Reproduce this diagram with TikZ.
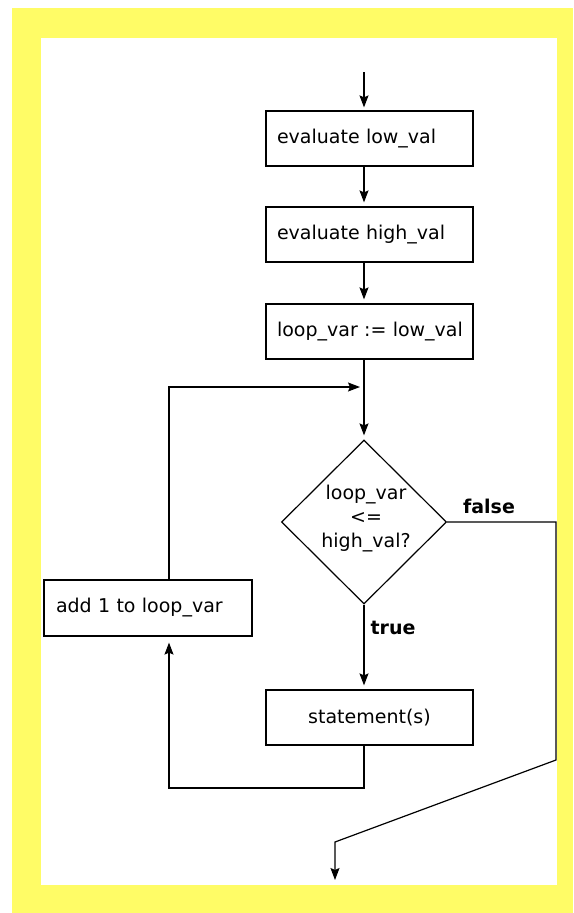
\documentclass[tikz,border=0pt]{standalone}
\usepackage{fontspec}
\setmainfont{DejaVu Sans}
\usetikzlibrary{shapes.geometric,arrows.meta}
\definecolor{bgyellow}{RGB}{255,252,102}
\begin{document}
\begin{tikzpicture}[x=1pt,y=-1pt,
  txt/.style={font=\fontsize{19}{24}\selectfont},
  bold/.style={font=\fontsize{19}{24}\selectfont\bfseries},
  procbox/.style={txt,draw,line width=1.2pt,minimum width=207pt,minimum height=55pt,
    text width=185pt,align=left,inner xsep=11pt,inner ysep=0pt},
  decision/.style={diamond,draw,line width=1.2pt,minimum width=165pt,minimum height=164pt,inner sep=0pt},
  flow/.style={line width=1.2pt},
  arr/.style={flow,-{Stealth[length=12pt,width=9pt,inset=2pt]}}
]
% background frame
\useasboundingbox (0,0) rectangle (573,913);
\fill[white] (0,0) rectangle (573,913);
\fill[bgyellow] (12,8) rectangle (573,913);
\fill[white] (41,38) rectangle (557,885);

% nodes
\node[procbox] (b1) at (369.5,138.5) {evaluate low\_val};
\node[procbox] (b2) at (369.5,234.5) {evaluate high\_val};
\node[procbox] (b3) at (369.5,331.5) {\mbox{loop\_var := low\_val}};
\node[decision] (d) at (364,522) {};
\node[txt,align=center] (dt) at (366,519) {loop\_var\\<=\\high\_val?};
\node[procbox,align=center] (st) at (369.5,717.5) {statement(s)};
\node[procbox,minimum width=208pt,text width=184pt,inner xsep=12pt,minimum height=56pt] (add) at (148,608) {add 1 to loop\_var};
\node[bold] (tl) at (393,628) {true};
\node[bold] (fl) at (489,506) {false};

% helper coordinates
\coordinate (start) at (364,72);
\coordinate (loopin) at (364,387);
\coordinate (lx) at (169,387);
\coordinate (bot) at (169,788);
\coordinate (f1) at (556,760);
\coordinate (f2) at (335,842);
\coordinate (fin) at (335,880);

% connectors
\draw[arr,shorten >=3pt] (start) -- (start |- b1.north);
\draw[arr,shorten >=4pt] (b1.south -| start) -- (b2.north -| start);
\draw[arr,shorten >=4pt] (b2.south -| start) -- (b3.north -| start);
\draw[arr,shorten >=4pt] (b3.south -| start) -- (d.north);
\draw[arr,shorten >=4pt] (add.north -| lx) -- (lx) -- (loopin);
\draw[arr,shorten >=4pt] (d.south) -- (st.north -| d.south);
\draw[arr,shorten >=6pt] (st.south -| start) |- (bot) -- (add.south -| lx);
\draw[arr] (d.east) -- (d.east -| f1) -- (f1) -- (f2) -- (fin);
\end{tikzpicture}
\end{document}
